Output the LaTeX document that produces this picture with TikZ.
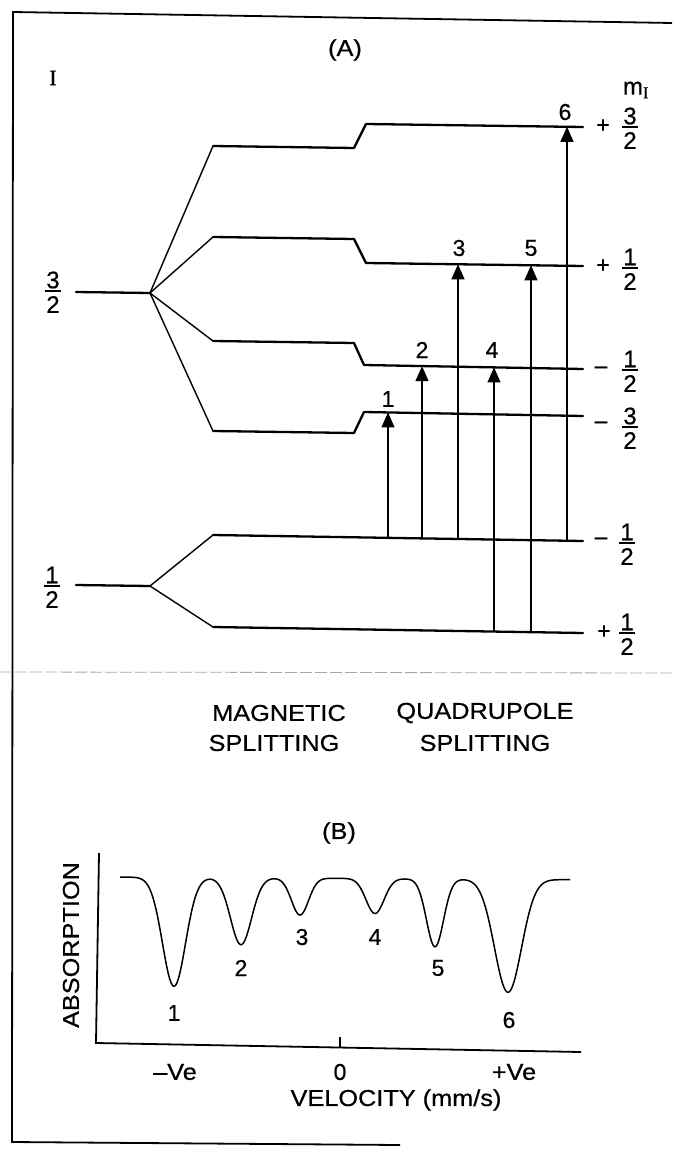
\documentclass[tikz,border=0pt]{standalone}
\usepackage{fontspec}
\setmainfont[FakeBold=0.6]{Liberation Sans}
\newfontfamily\serfont[FakeBold=0.6]{Liberation Serif}
\usepackage{graphicx}
\usetikzlibrary{arrows.meta}
\newcommand{\widetxt}[1]{\scalebox{1.1}[1]{#1}}
\newcommand{\fracat}[5]{%
  \node[ftxt] (#1n) at (#2,#3-11) {#4};
  \draw[fbar] (#2-8,#3) -- (#2+8,#3);
  \node[ftxt] (#1d) at (#2,#3+13.5) {#5};}
\tikzset{
  lvl/.style={line width=2.3pt, line join=round, line cap=round},
  branch/.style={line width=1.4pt},
  trans/.style={line width=1.1pt, -{Triangle[length=15pt,width=13pt]}},
  txt/.style={font=\fontsize{23}{26}\selectfont, inner sep=0pt},
  ftxt/.style={font=\fontsize{24}{26}\selectfont, inner sep=0pt},
  fbar/.style={line width=2.2pt},
  frame/.style={line width=1.8pt},
  axis/.style={line width=1.8pt},
  spec/.style={line width=1.5pt, line join=round},
  sep/.style={line width=0.8pt, gray!70, dash pattern=on 12pt off 3pt}
}
\begin{document}
\begin{tikzpicture}[x=1pt,y=-1pt,
  declare function={g(\u,\c,\s)=exp(-min(((\u-\c)/\s)*((\u-\c)/\s)/2,20));}]
\fill[white] (0,0) rectangle (672,1150);
\useasboundingbox (0,0) rectangle (672,1150);

% frame
\coordinate (F1) at (672,23);
\coordinate (F2) at (13,12);
\coordinate (F3) at (12,1142);
\coordinate (F4) at (400,1145);
\draw[frame] (F1) -- (F2) -- (F3) -- (F4);
\coordinate (D1) at (0,672);
\coordinate (D2) at (672,673);
\draw[sep] (D1) -- (D2);

% ---------- panel A ----------
\node[txt] (A) at (345,50) {\widetxt{(A)}};
\node[txt, font=\serfont\fontsize{22}{24}\selectfont] (Ilbl) at (53,78) {I};
\node[txt, font=\fontsize{24}{26}\selectfont] (mI) at (636,90) {m\textsubscript{\serfont I}};

% excited state I=3/2
\coordinate (U) at (76,292);
\coordinate (S1) at (150,293);
\coordinate (a1) at (213,146); \coordinate (a2) at (354,148);
\coordinate (a3) at (366,124); \coordinate (a4) at (583,127);
\coordinate (b1) at (213,237); \coordinate (b2) at (354,239);
\coordinate (b3) at (366,263); \coordinate (b4) at (583,266);
\coordinate (c1) at (213,341); \coordinate (c2) at (354,343);
\coordinate (c3) at (364,365); \coordinate (c4) at (583,369);
\coordinate (d1) at (213,431); \coordinate (d2) at (354,433);
\coordinate (d3) at (364,412); \coordinate (d4) at (583,416);
\draw[lvl] (U) -- (S1);
\draw[branch] (S1) -- (a1);
\draw[branch] (S1) -- (b1);
\draw[branch] (S1) -- (c1);
\draw[branch] (S1) -- (d1);
\draw[lvl] (a1) -- (a2) -- (a3) -- (a4);
\draw[lvl] (b1) -- (b2) -- (b3) -- (b4);
\draw[lvl] (c1) -- (c2) -- (c3) -- (c4);
\draw[lvl] (d1) -- (d2) -- (d3) -- (d4);

% ground state I=1/2
\coordinate (G) at (76,585);
\coordinate (S2) at (150,586);
\coordinate (g1) at (213,535); \coordinate (g2) at (583,541);
\coordinate (h1) at (213,627); \coordinate (h2) at (583,633);
\draw[lvl] (G) -- (S2);
\draw[branch] (S2) -- (g1);
\draw[branch] (S2) -- (h1);
\draw[lvl] (g1) -- (g2);
\draw[lvl] (h1) -- (h2);

% transitions
\coordinate (t1s) at (388,537.8); \coordinate (t1e) at (388,412.4);
\coordinate (t2s) at (422,538.4); \coordinate (t2e) at (422,366.1);
\coordinate (t3s) at (458,539.0); \coordinate (t3e) at (458,264.3);
\coordinate (t4s) at (494,631.6); \coordinate (t4e) at (494,367.4);
\coordinate (t5s) at (531,632.2); \coordinate (t5e) at (531,265.3);
\coordinate (t6s) at (567,540.7); \coordinate (t6e) at (567,126.8);
\draw[trans] (t1s) -- (t1e);
\draw[trans] (t2s) -- (t2e);
\draw[trans] (t3s) -- (t3e);
\draw[trans] (t4s) -- (t4e);
\draw[trans] (t5s) -- (t5e);
\draw[trans] (t6s) -- (t6e);
\node[txt] (n1) at (388,399) {1};
\node[txt] (n2) at (422,350) {2};
\node[txt] (n3) at (459,248) {3};
\node[txt] (n4) at (492,350) {4};
\node[txt] (n5) at (531,248) {5};
\node[txt] (n6) at (565,112) {6};

% left I labels
\fracat{L3}{53}{291}{3}{2}
\fracat{L1}{52}{586}{1}{2}

% right m_I labels
\node[txt] (sa) at (603,126) {+};
\fracat{Ra}{630}{127}{3}{2}
\node[txt] (sb) at (603,266) {+};
\fracat{Rb}{630}{268}{1}{2}
\node[txt] (sc) at (601,370) {--};
\fracat{Rc}{630}{370}{1}{2}
\node[txt] (sd) at (601,425) {--};
\fracat{Rd}{630}{427}{3}{2}
\node[txt] (sg) at (601,541) {--};
\fracat{Rg}{627}{543}{1}{2}
\node[txt] (sh) at (604,632) {+};
\fracat{Rh}{627}{633}{1}{2}

% ---------- middle captions ----------
\node[txt] (mag1) at (279,713) {\widetxt{MAGNETIC}};
\node[txt] (mag2) at (274,743) {\widetxt{SPLITTING}};
\node[txt] (qua1) at (485,713) {\widetxt{QUADRUPOLE}};
\node[txt] (qua2) at (485,743) {\widetxt{SPLITTING}};

% ---------- panel B ----------
\node[txt] (B) at (339,833) {\widetxt{(B)}};
\coordinate (yt) at (99,853);
\coordinate (O) at (96,1043);
\coordinate (xe) at (581,1052);
\draw[axis] (yt) -- (O) -- (xe);
\coordinate (tk1) at (340,1047.5);
\coordinate (tk2) at (340,1037);
\draw[line width=1.3pt] (tk1) -- (tk2);
\node[txt, rotate=90] (abs) at (71,945) {\widetxt{ABSORPTION}};
\draw[spec] plot[domain=120:570, samples=300]
  (\x, {877+0.006*(\x-120)
        +109*g(\x,174,11.5)
        +67*g(\x,241,10.5)
        +37*g(\x,300,8.5)
        +35*g(\x,375,9)
        +68*g(\x,435,8.5)
        +113*g(\x,508,13.5)});
\node[txt] (p1) at (174,1013) {1};
\node[txt] (p2) at (241,968) {2};
\node[txt] (p3) at (302,937) {3};
\node[txt] (p4) at (375,937) {4};
\node[txt] (p5) at (438,968) {5};
\node[txt] (p6) at (509,1020) {6};
\node[txt] (vm) at (175,1072) {\widetxt{--Ve}};
\node[txt] (v0) at (340,1072) {0};
\node[txt] (vp) at (514,1072) {\widetxt{+Ve}};
\node[txt] (vel) at (396,1100) {\widetxt{VELOCITY (mm/s)}};
\end{tikzpicture}
\end{document}
